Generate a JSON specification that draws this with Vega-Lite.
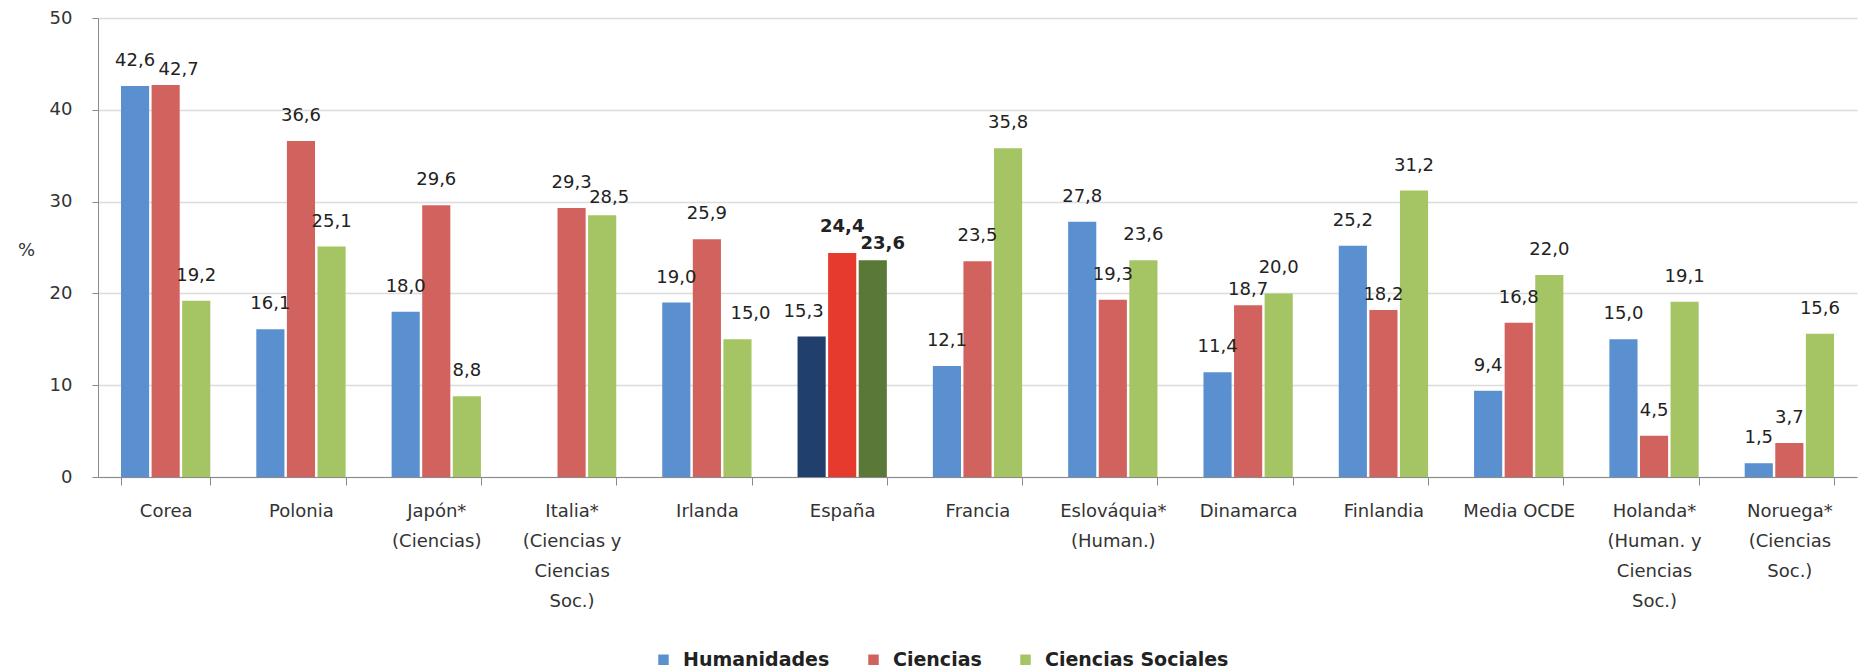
{
  "$schema": "https://vega.github.io/schema/vega-lite/v6.json",
  "autosize": {"type": "none"},
  "width": 1759,
  "height": 459,
  "padding": {"left": 98, "top": 18, "right": 2, "bottom": 193},
  "background": "white",
  "config": {
    "view": {"stroke": null},
    "font": "DejaVu Sans",
    "locale": {"number": {"decimal": ",", "thousands": ".", "grouping": [3], "currency": ["", " €"]}}
  },
  "data": {
    "values": [
      {"pais": "Corea", "area": "Humanidades", "valor": 42.6},
      {"pais": "Corea", "area": "Ciencias", "valor": 42.7},
      {"pais": "Corea", "area": "Ciencias Sociales", "valor": 19.2},
      {"pais": "Polonia", "area": "Humanidades", "valor": 16.1},
      {"pais": "Polonia", "area": "Ciencias", "valor": 36.6},
      {"pais": "Polonia", "area": "Ciencias Sociales", "valor": 25.1},
      {"pais": "Japón*|(Ciencias)", "area": "Humanidades", "valor": 18.0},
      {"pais": "Japón*|(Ciencias)", "area": "Ciencias", "valor": 29.6},
      {"pais": "Japón*|(Ciencias)", "area": "Ciencias Sociales", "valor": 8.8},
      {"pais": "Italia*|(Ciencias y|Ciencias|Soc.)", "area": "Ciencias", "valor": 29.3},
      {"pais": "Italia*|(Ciencias y|Ciencias|Soc.)", "area": "Ciencias Sociales", "valor": 28.5},
      {"pais": "Irlanda", "area": "Humanidades", "valor": 19.0},
      {"pais": "Irlanda", "area": "Ciencias", "valor": 25.9},
      {"pais": "Irlanda", "area": "Ciencias Sociales", "valor": 15.0},
      {"pais": "España", "area": "Humanidades", "valor": 15.3},
      {"pais": "España", "area": "Ciencias", "valor": 24.4},
      {"pais": "España", "area": "Ciencias Sociales", "valor": 23.6},
      {"pais": "Francia", "area": "Humanidades", "valor": 12.1},
      {"pais": "Francia", "area": "Ciencias", "valor": 23.5},
      {"pais": "Francia", "area": "Ciencias Sociales", "valor": 35.8},
      {"pais": "Eslováquia*|(Human.)", "area": "Humanidades", "valor": 27.8},
      {"pais": "Eslováquia*|(Human.)", "area": "Ciencias", "valor": 19.3},
      {"pais": "Eslováquia*|(Human.)", "area": "Ciencias Sociales", "valor": 23.6},
      {"pais": "Dinamarca", "area": "Humanidades", "valor": 11.4},
      {"pais": "Dinamarca", "area": "Ciencias", "valor": 18.7},
      {"pais": "Dinamarca", "area": "Ciencias Sociales", "valor": 20.0},
      {"pais": "Finlandia", "area": "Humanidades", "valor": 25.2},
      {"pais": "Finlandia", "area": "Ciencias", "valor": 18.2},
      {"pais": "Finlandia", "area": "Ciencias Sociales", "valor": 31.2},
      {"pais": "Media OCDE", "area": "Humanidades", "valor": 9.4},
      {"pais": "Media OCDE", "area": "Ciencias", "valor": 16.8},
      {"pais": "Media OCDE", "area": "Ciencias Sociales", "valor": 22.0},
      {"pais": "Holanda*|(Human. y|Ciencias|Soc.)", "area": "Humanidades", "valor": 15.0},
      {"pais": "Holanda*|(Human. y|Ciencias|Soc.)", "area": "Ciencias", "valor": 4.5},
      {"pais": "Holanda*|(Human. y|Ciencias|Soc.)", "area": "Ciencias Sociales", "valor": 19.1},
      {"pais": "Noruega*|(Ciencias|Soc.)", "area": "Humanidades", "valor": 1.5},
      {"pais": "Noruega*|(Ciencias|Soc.)", "area": "Ciencias", "valor": 3.7},
      {"pais": "Noruega*|(Ciencias|Soc.)", "area": "Ciencias Sociales", "valor": 15.6}
    ]
  },
  "encoding": {
    "x": {
      "field": "pais",
      "type": "nominal",
      "sort": null,
      "scale": {"paddingInner": 0.34, "paddingOuter": 0.17},
      "axis": {
        "title": null,
        "labelAngle": 0,
        "labelExpr": "split(datum.label, '|')",
        "labelFontSize": 18,
        "labelLineHeight": 30,
        "labelColor": "#333333",
        "labelPadding": 17,
        "labelLimit": 300,
        "tickBand": "extent",
        "tickSize": 8,
        "tickColor": "#8a8a8a",
        "domainColor": "#8a8a8a",
        "grid": false
      }
    },
    "xOffset": {
      "field": "area",
      "type": "nominal",
      "scale": {"domain": ["Humanidades", "Ciencias", "Ciencias Sociales"], "paddingInner": 0.08, "paddingOuter": 0}
    },
    "y": {
      "field": "valor",
      "type": "quantitative",
      "scale": {"domain": [0, 50], "nice": false},
      "axis": {
        "title": "%",
        "titleAngle": 0,
        "titleX": -72,
        "titleY": 232,
        "titleAlign": "center",
        "titleBaseline": "middle",
        "titleFontSize": 18,
        "titleFontWeight": "normal",
        "titleColor": "#333333",
        "values": [0, 10, 20, 30, 40, 50],
        "labelFontSize": 18,
        "labelColor": "#333333",
        "labelPadding": 20,
        "tickSize": 6,
        "tickColor": "#8a8a8a",
        "domainColor": "#8a8a8a",
        "gridColor": "#dcdcdc",
        "gridWidth": 1.5
      }
    },
    "text": {"field": "valor", "type": "quantitative", "format": ".1f"}
  },
  "layer": [
    {
      "mark": {"type": "bar"},
      "encoding": {
        "text": null,
        "color": {
          "condition": [
            {"test": "datum.pais === 'España' && datum.area === 'Humanidades'", "value": "#213f6c"},
            {"test": "datum.pais === 'España' && datum.area === 'Ciencias'", "value": "#e63a2e"},
            {"test": "datum.pais === 'España' && datum.area === 'Ciencias Sociales'", "value": "#5a7838"}
          ],
          "field": "area",
          "type": "nominal",
          "scale": {"domain": ["Humanidades", "Ciencias", "Ciencias Sociales"], "range": ["#5a8fd0", "#d2625e", "#a5c565"]},
          "legend": {
            "title": null,
            "orient": "none",
            "direction": "horizontal",
            "legendX": 556,
            "legendY": 632,
            "symbolType": "square",
            "symbolSize": 110,
            "symbolStrokeWidth": 0,
            "labelFontSize": 19,
            "labelFontWeight": "bold",
            "labelColor": "#222222",
            "labelOffset": 10,
            "labelLimit": 400,
            "columnPadding": 34
          }
        }
      }
    },
    {
      "transform": [{"filter": "datum.pais !== 'España' && !(datum.pais === 'Corea' && datum.area === 'Ciencias') && !(indexof(datum.pais, 'Italia') === 0 && datum.area === 'Ciencias Sociales') && !(datum.pais === 'Dinamarca' && datum.area === 'Ciencias') && !(datum.pais === 'Finlandia' && datum.area === 'Ciencias') && !(datum.pais === 'Irlanda' && datum.area === 'Ciencias Sociales')"}],
      "mark": {"type": "text", "baseline": "middle", "align": "center", "dy": -25, "fontSize": 18, "color": "#222222"}
    },
    {
      "transform": [{"filter": "datum.pais === 'Corea' && datum.area === 'Ciencias'"}],
      "mark": {"type": "text", "baseline": "middle", "align": "center", "dx": 13, "dy": -15, "fontSize": 18, "color": "#222222"}
    },
    {
      "transform": [{"filter": "indexof(datum.pais, 'Italia') === 0 && datum.area === 'Ciencias Sociales'"}],
      "mark": {"type": "text", "baseline": "middle", "align": "center", "dx": 7, "dy": -17, "fontSize": 18, "color": "#222222"}
    },
    {
      "transform": [{"filter": "(datum.pais === 'Dinamarca' || datum.pais === 'Finlandia') && datum.area === 'Ciencias'"}],
      "mark": {"type": "text", "baseline": "middle", "align": "center", "dy": -15, "fontSize": 18, "color": "#222222"}
    },
    {
      "transform": [{"filter": "datum.pais === 'Irlanda' && datum.area === 'Ciencias Sociales'"}],
      "mark": {"type": "text", "baseline": "middle", "align": "center", "dx": 13, "dy": -25, "fontSize": 18, "color": "#222222"}
    },
    {
      "transform": [{"filter": "datum.pais === 'España' && datum.area === 'Humanidades'"}],
      "mark": {"type": "text", "baseline": "middle", "align": "center", "dx": -8, "dy": -25, "fontSize": 18, "color": "#222222"}
    },
    {
      "transform": [{"filter": "datum.pais === 'España' && datum.area === 'Ciencias'"}],
      "mark": {"type": "text", "baseline": "middle", "align": "center", "dy": -26, "fontSize": 18, "fontWeight": "bold", "color": "#222222"}
    },
    {
      "transform": [{"filter": "datum.pais === 'España' && datum.area === 'Ciencias Sociales'"}],
      "mark": {"type": "text", "baseline": "middle", "align": "center", "dx": 10, "dy": -16, "fontSize": 18, "fontWeight": "bold", "color": "#222222"}
    }
  ]
}
